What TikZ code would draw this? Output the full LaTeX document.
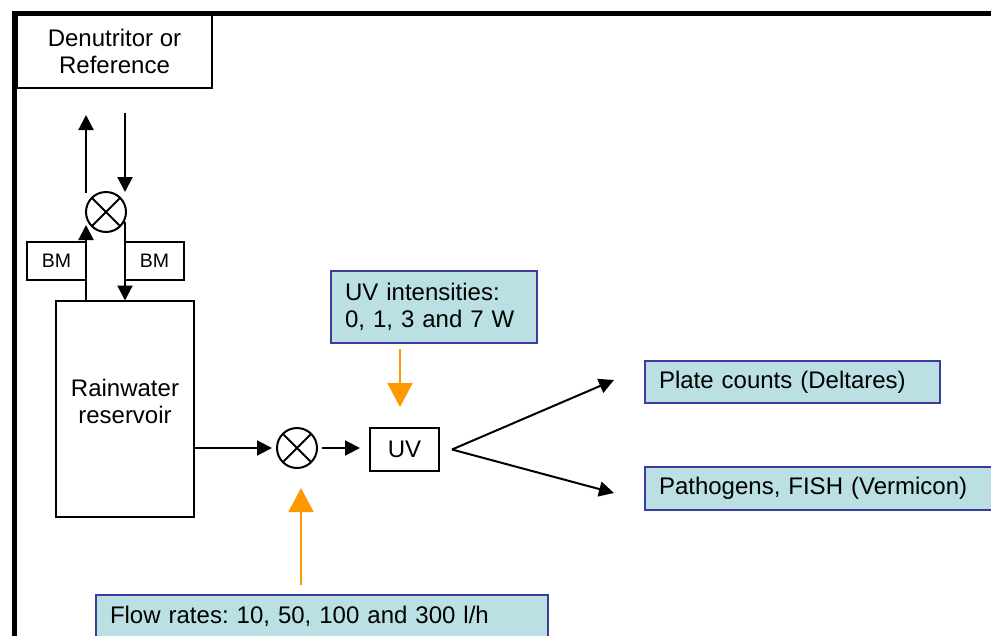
\documentclass[tikz,border=0pt]{standalone}
\usepackage{fontspec}
\setmainfont{Liberation Sans}
\frenchspacing
\usetikzlibrary{arrows,arrows.meta}
\definecolor{infofill}{RGB}{186,224,227}
\definecolor{infodraw}{RGB}{60,60,160}
\definecolor{dosing}{RGB}{255,153,0}
\tikzset{
  {frame/.style} ={draw,line width=5pt},
  {plainbox/.style} ={draw,line width=2pt,fill=white,inner sep=0,outer sep=0,
                font=\fontsize{24}{27}\selectfont},
  {bmbox/.style} ={plainbox,minimum width=59pt,minimum height=38pt,
                font=\fontsize{19.5}{22}\selectfont},
  {infobox/.style} ={draw=infodraw,line width=2pt,fill=infofill,outer sep=0,
                align=left,inner xsep=14pt,inner ysep=0,
                font=\fontsize{24}{27}\selectfont},
  {mixer/.style} ={circle,draw,line width=2pt,minimum size=40pt,
                inner sep=0,outer sep=0,
                path picture={
                  \draw[line width=2pt] (path picture bounding box.north west)
                    -- (path picture bounding box.south east);
                  \draw[line width=2pt] (path picture bounding box.north east)
                    -- (path picture bounding box.south west);}},
  {pipe/.style} ={draw,line width=2pt,-{Triangle[length=15pt,width=15pt]}},
  {dose/.style} ={draw=dosing,line width=2pt,
                -{Triangle[length=24pt,width=25pt]},dosing},
}
\begin{document}
\begin{tikzpicture}[x=1pt,y=-1pt]
\useasboundingbox (0,0) rectangle (991,635);
\clip (0,0) rectangle (991,635);

% outer frame
\draw[frame] (14,13) rectangle (1100,700);

% left column
\node[plainbox,align=center,minimum width=195pt,minimum height=73pt]
    (denut) at (114.5,51.5) {Denutritor or\\Reference};
\node[mixer] (mix1) at (106,212) {};
\node[bmbox] (bmL) at (56.5,261) {BM};
\node[bmbox] (bmR) at (154.5,261) {BM};
\node[plainbox,minimum width=138pt,minimum height=216pt]
    (res) at (125,408.5) {};
\node[align=center,font=\fontsize{24}{27}\selectfont]
    (restext) at (125,401) {Rainwater\\reservoir};

\coordinate (outtop) at (86,115);
\coordinate (intop) at (125,113);

\draw[pipe] (res.north -| bmL.east) -- (bmL.east |- 0,225);
\draw[pipe] (bmL.east |- 0,193) -- (outtop);
\draw[pipe] (intop) -- (bmR.west |- 0,192);
\draw[pipe] (bmR.west |- 0,222) -- (res.north -| bmR.west);

% main line
\node[mixer] (mix2) at (297,448) {};
\node[plainbox,minimum width=69pt,minimum height=43pt]
    (uv) at (404.5,449.5) {UV};
\draw[pipe,shorten >=5pt] (res.east |- mix2.west) -- (mix2.west);
\draw[pipe,shorten <=5pt,shorten >=10pt] (mix2.east) -- (uv.west |- mix2.east);

% results
\node[infobox,text width=267pt,minimum height=42pt]
    (plate) at (792.5,382) {Plate counts (Deltares)};
\node[infobox,text width=332pt,minimum height=43pt]
    (patho) at (825,488.5) {Pathogens, FISH (Vermicon)};
\coordinate (vx) at ([xshift=13pt]uv.east);
\coordinate (toplate) at (614,380);
\coordinate (topatho) at (614,493);
\draw[pipe] (vx) -- (toplate);
\draw[pipe] (vx) -- (topatho);

% settings
\node[infobox,text width=178pt,minimum height=72pt]
    (uvint) at (434,307) {UV intensities:\\0, 1, 3 and 7 W};
\node[infobox,text width=424pt,minimum height=43pt]
    (flow) at (322,616.5) {Flow rates: 10, 50, 100 and 300 l/h};
\draw[dose] (uvint.south -| 400,0) ++(0,6) -- (400,407);
\draw[dose] (flow.north -| 301,0) ++(0,-10) -- ([yshift=-20pt]mix2.south -| 301,0);
\end{tikzpicture}
\end{document}
